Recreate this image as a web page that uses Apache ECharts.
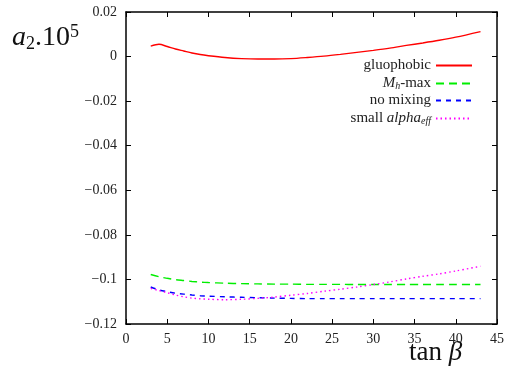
<!DOCTYPE html>
<html>
<head>
<meta charset="utf-8">
<script src="https://cdn.jsdelivr.net/npm/echarts@6/dist/echarts.min.js"></script>
<style>html,body{margin:0;padding:0;background:#fff}#c{width:507px;height:378px}</style>
</head>
<body>
<div id="c"></div>
<script>
const tanBeta = [3,4,5,6,7,8,9,10,12,14,16,18,20,22,24,26,28,30,32,34,36,38,40,43];
const gluophobic = [0.0047,0.0055,0.0045,0.0034,0.0025,0.0016,0.0009,0.0004,-0.0004,-0.0009,-0.0011,-0.0011,-0.0009,-0.0004,0.0002,0.0010,0.0019,0.0028,0.0038,0.0050,0.0061,0.0073,0.0087,0.0112];
const mhMax = [-0.0978,-0.0988,-0.0995,-0.1001,-0.1005,-0.1009,-0.1012,-0.1014,-0.1017,-0.1019,-0.1020,-0.1021,-0.1021,-0.1022,-0.1022,-0.1022,-0.1023,-0.1023,-0.1023,-0.1023,-0.1023,-0.1023,-0.1023,-0.1023];
const noMixing = [-0.1034,-0.1047,-0.1055,-0.1062,-0.1066,-0.1070,-0.1073,-0.1075,-0.1078,-0.1080,-0.1082,-0.1084,-0.1085,-0.1086,-0.1086,-0.1086,-0.1086,-0.1086,-0.1086,-0.1086,-0.1086,-0.1086,-0.1086,-0.1086];
const smallAlpha = [-0.1040,-0.1050,-0.1060,-0.1070,-0.1078,-0.1084,-0.1087,-0.1089,-0.1091,-0.1089,-0.1085,-0.1079,-0.1071,-0.1063,-0.1053,-0.1044,-0.1034,-0.1023,-0.1011,-0.0998,-0.0986,-0.0975,-0.0962,-0.0941];
const seriesNames = ['gluophobic','Mh-max','no mixing','small alpha_eff'];
const xTicks = {min:0,max:45,interval:5};
const yTicks = {min:-0.12,max:0.02,interval:0.02};

const serif = '"Liberation Serif", "DejaVu Serif", serif';
const pair = (xs, ys) => xs.map((x,i)=>[x, ys[i]]);
const fmtY = v => Math.abs(v) < 1e-9 ? '0' : String(parseFloat(v.toFixed(2))).replace('-', '\u2212');

const legendRich = {
  i: {fontFamily: serif, fontStyle: 'italic', fontSize: 15, color: '#222'},
  sub: {fontFamily: serif, fontStyle: 'italic', fontSize: 10, color: '#222', verticalAlign: 'bottom', padding: [6,0,0,0]}
};
const legendFmt = name => {
  if (name === 'Mh-max') return '{i|M}{sub|h}-max';
  if (name === 'small alpha_eff') return 'small {i|alpha}{sub|eff}';
  return name;
};
const legendTops = [58, 76, 93, 111];
const legends = seriesNames.map((n, k) => ({
  data: [n], right: 34, top: legendTops[k], orient: 'vertical', align: 'right',
  itemWidth: 36, itemHeight: 14, padding: 0, selectedMode: false,
  itemStyle: {opacity: 0},
  formatter: legendFmt,
  textStyle: {fontFamily: serif, fontSize: 15, color: '#222', rich: legendRich}
}));

const axisLine = {show: true, onZero: false, lineStyle: {color: '#000', width: 1.5}};
const axisTick = {show: true, inside: true, length: 5, lineStyle: {color: '#000', width: 1}};

const chart = echarts.init(document.getElementById('c'), null, {renderer: 'canvas'});
chart.setOption({
  animation: false,
  backgroundColor: '#fff',
  title: [
    {left: 7, top: 18, text: '{i|a}{s|2}{n|.10}{p|5}',
     textStyle: {rich: {
       i: {fontFamily: serif, fontStyle: 'italic', fontWeight: 'normal', fontSize: 28, color: '#111'},
       s: {fontFamily: serif, fontWeight: 'normal', fontSize: 18, color: '#111', verticalAlign: 'bottom', padding: [12,0,0,0]},
       n: {fontFamily: serif, fontWeight: 'normal', fontSize: 28, color: '#111'},
       p: {fontFamily: serif, fontWeight: 'normal', fontSize: 18, color: '#111', verticalAlign: 'top', padding: [0,0,12,0]}
     }}},
    {left: 404, top: 334, text: '{n|tan }{i|\u03b2}',
     textStyle: {rich: {
       n: {fontFamily: serif, fontWeight: 'normal', fontSize: 27, color: '#111'},
       i: {fontFamily: serif, fontWeight: 'normal', fontStyle: 'italic', fontSize: 27, color: '#111'}
     }}}
  ],
  legend: legends,
  grid: {left: 126, right: 9, top: 12, bottom: 54, containLabel: false},
  xAxis: [
    {type: 'value', min: xTicks.min, max: xTicks.max, interval: xTicks.interval, position: 'bottom',
     axisLine, axisTick, splitLine: {show: false},
     axisLabel: {fontFamily: serif, fontSize: 14, color: '#222', margin: 8}},
    {type: 'value', min: xTicks.min, max: xTicks.max, interval: xTicks.interval, position: 'top',
     axisLine, axisTick, splitLine: {show: false}, axisLabel: {show: false}}
  ],
  yAxis: [
    {type: 'value', min: yTicks.min, max: yTicks.max, interval: yTicks.interval, position: 'left',
     axisLine, axisTick, splitLine: {show: false},
     axisLabel: {fontFamily: serif, fontSize: 14, color: '#222', margin: 9, formatter: fmtY}},
    {type: 'value', min: yTicks.min, max: yTicks.max, interval: yTicks.interval, position: 'right',
     axisLine, axisTick, splitLine: {show: false}, axisLabel: {show: false}}
  ],
  series: [
    {name: seriesNames[0], type: 'line', data: pair(tanBeta, gluophobic), smooth: 0.3, symbol: 'none',
     lineStyle: {color: '#ff0000', width: 1.4, type: 'solid'}, itemStyle: {color: '#ff0000'}},
    {name: seriesNames[1], type: 'line', data: pair(tanBeta, mhMax), smooth: 0.3, symbol: 'none',
     lineStyle: {color: '#00ee00', width: 1.4, type: [8, 5]}, itemStyle: {color: '#00ee00'}},
    {name: seriesNames[2], type: 'line', data: pair(tanBeta, noMixing), smooth: 0.3, symbol: 'none',
     lineStyle: {color: '#0000ff', width: 1.4, type: [5, 5]}, itemStyle: {color: '#0000ff'}},
    {name: seriesNames[3], type: 'line', data: pair(tanBeta, smallAlpha), smooth: 0.3, symbol: 'none',
     lineStyle: {color: '#ff00ff', width: 1.4, type: [1.5, 3]}, itemStyle: {color: '#ff00ff'}}
  ]
});
</script>
</body>
</html>
